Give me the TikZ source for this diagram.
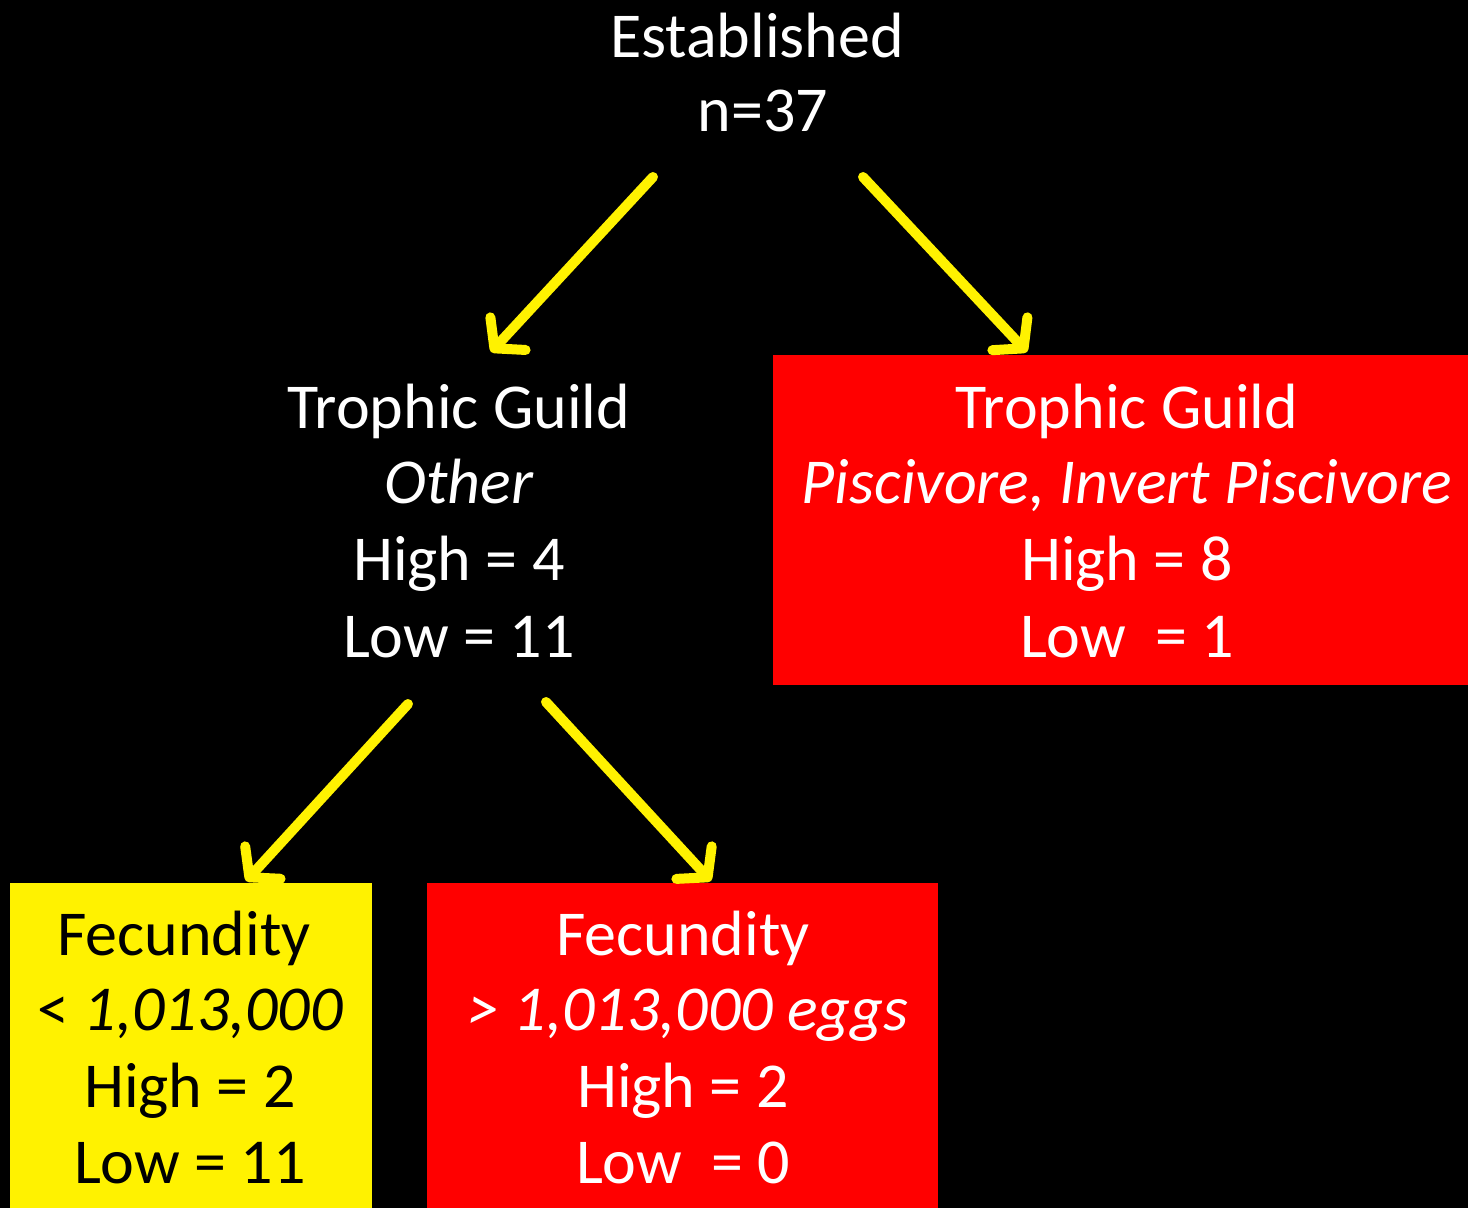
\documentclass[tikz,border=0pt]{standalone}
\usepackage{fontspec}
\setmainfont{Carlito}
\usetikzlibrary{arrows.meta}
\begin{document}
\begin{tikzpicture}[x=1pt,y=-1pt,
  txt/.style={anchor=base,inner sep=0pt,font=\fontsize{64}{77}\selectfont},
  wtxt/.style={txt,text=white},
  btxt/.style={txt,text=black},
  box/.style={anchor=north west,inner sep=0pt,draw=none},
  link/.style={draw=yellow,line width=10pt,line cap=round,
    -{Straight Barb[length=20pt,width=48pt,line width=10pt,round]}}]
  % backdrop
  \fill[black] (0,0) rectangle (1468,1208);
  \useasboundingbox (0,0) rectangle (1468,1208);

  % root
  \node[wtxt] (root1) at (757,57) {Established};
  \node[wtxt] (root2) at (763,131) {n=37};

  % right leaf
  \node[box,fill=red,minimum width=695pt,minimum height=330pt] (rbox) at (773,355) {};
  \node[wtxt] (r1) at (1127,428) {Trophic Guild};
  \node[wtxt] (r2) at (1127,503) {\itshape Piscivore, Invert Piscivore};
  \node[wtxt] (r3) at (1127,580) {High = 8};
  \node[wtxt] (r4) at (1127,657) {Low\ \ = 1};

  % middle split
  \node[wtxt] (m1) at (459,428) {Trophic Guild};
  \node[wtxt] (m2) at (459,503) {\itshape Other};
  \node[wtxt] (m3) at (459,580) {High = 4};
  \node[wtxt] (m4) at (459,657) {Low = 11};

  % lower left leaf
  \node[box,fill=yellow,minimum width=362pt,minimum height=325pt] (ybox) at (10,883) {};
  \node[btxt] (y1) at (184,955) {Fecundity};
  \node[btxt] (y2) at (190,1030) {< \itshape 1,013,000};
  \node[btxt] (y3) at (190,1107) {High = 2};
  \node[btxt] (y4) at (190,1183) {Low = 11};

  % lower right leaf
  \node[box,fill=red,minimum width=511pt,minimum height=325pt] (gbox) at (427,883) {};
  \node[wtxt] (g1) at (683,955) {Fecundity};
  \node[wtxt] (g2) at (688,1030) {\itshape > 1,013,000 eggs};
  \node[wtxt] (g3) at (683,1107) {High = 2};
  \node[wtxt] (g4) at (683,1183) {Low\ \ = 0};

  % connector ends
  \coordinate (a1s) at (653,177);
  \coordinate (a1e) at (491,352);
  \coordinate (a2s) at (863,177);
  \coordinate (a2e) at (1027,352);
  \coordinate (a3s) at (408,704);
  \coordinate (a3e) at (246,881);
  \coordinate (a4s) at (546,702);
  \coordinate (a4e) at (711,881);

  \draw[link] (a1s) -- (a1e);
  \draw[link] (a2s) -- (a2e);
  \draw[link] (a3s) -- (a3e);
  \draw[link] (a4s) -- (a4e);
\end{tikzpicture}
\end{document}
